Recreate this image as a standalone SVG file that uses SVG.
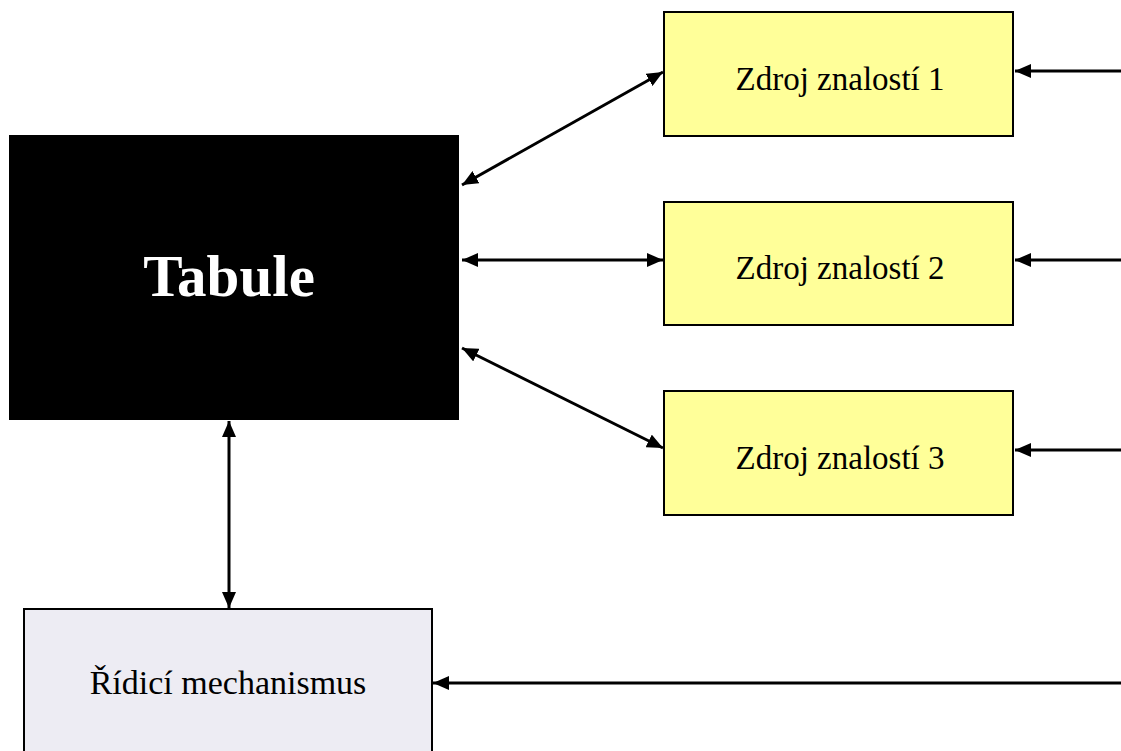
<svg xmlns="http://www.w3.org/2000/svg" width="1121" height="751" viewBox="0 0 1121 751">
<style>
.src{fill:#FFFF99;stroke:#000;stroke-width:2}
.lbl{font-family:"Liberation Serif","Times New Roman",serif;font-size:33px;fill:#000;text-anchor:middle}
.c{stroke:#000;stroke-width:3;fill:none}
</style>
<defs>
<marker id="ah" viewBox="0 0 16 14" refX="16" refY="7" markerWidth="16" markerHeight="14" markerUnits="userSpaceOnUse" orient="auto-start-reverse">
<path d="M0,0 L16,7 L0,14 Z" fill="#000"/>
</marker>
</defs>
<rect width="1121" height="751" fill="#fff"/>
<g id="tabule">
<rect x="9" y="135" width="450" height="285" fill="#000"/>
<text x="229" y="296" font-family="Liberation Serif,'Times New Roman',serif" font-size="59" font-weight="bold" fill="#fff" text-anchor="middle">Tabule</text>
</g>
<g id="zdroj1">
<rect class="src" x="664" y="12" width="349" height="124"/>
<text class="lbl" x="840" y="90">Zdroj znalostí 1</text>
</g>
<g id="zdroj2">
<rect class="src" x="664" y="202" width="349" height="123"/>
<text class="lbl" x="840" y="279">Zdroj znalostí 2</text>
</g>
<g id="zdroj3">
<rect class="src" x="664" y="391" width="349" height="124"/>
<text class="lbl" x="840" y="469">Zdroj znalostí 3</text>
</g>
<g id="ridici">
<rect x="24" y="609" width="408" height="150" fill="#EDECF3" stroke="#000" stroke-width="2"/>
<text class="lbl" x="228" y="694" style="font-size:34px">Řídicí mechanismus</text>
</g>
<g id="connectors">
<line class="c" x1="462" y1="185" x2="663" y2="72" marker-start="url(#ah)" marker-end="url(#ah)"/>
<line class="c" x1="462" y1="260" x2="663" y2="260" marker-start="url(#ah)" marker-end="url(#ah)"/>
<line class="c" x1="462" y1="348" x2="663" y2="448" marker-start="url(#ah)" marker-end="url(#ah)"/>
<line class="c" x1="229" y1="421" x2="229" y2="608" marker-start="url(#ah)" marker-end="url(#ah)"/>
<line class="c" x1="1121" y1="71" x2="1015" y2="71" marker-end="url(#ah)"/>
<line class="c" x1="1121" y1="260" x2="1015" y2="260" marker-end="url(#ah)"/>
<line class="c" x1="1121" y1="450" x2="1015" y2="450" marker-end="url(#ah)"/>
<line class="c" x1="1121" y1="683" x2="433" y2="683" marker-end="url(#ah)"/>
</g>
</svg>
